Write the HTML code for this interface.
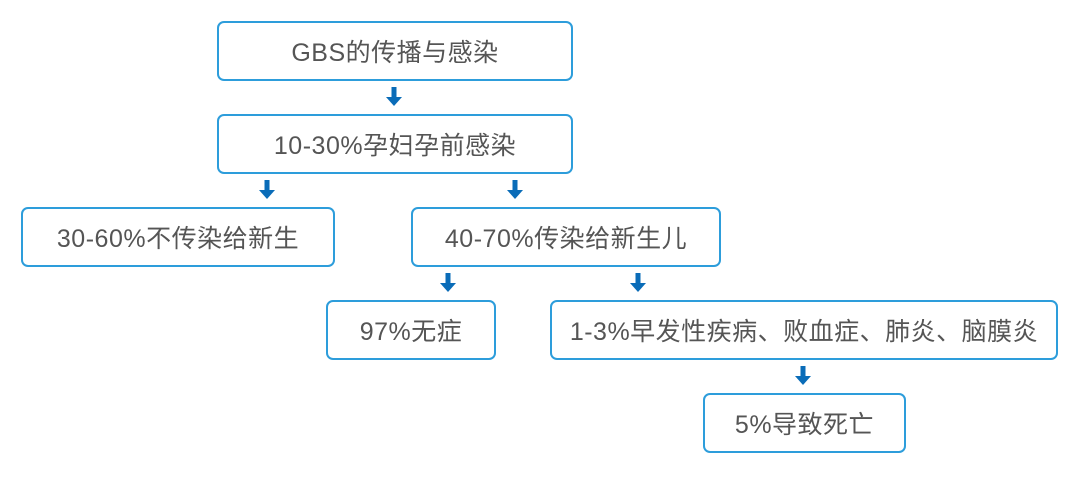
<!DOCTYPE html>
<html><head><meta charset="utf-8"><style>
html,body{margin:0;padding:0;background:#fff;}
body{width:1080px;height:477px;position:relative;overflow:hidden;font-family:"Liberation Sans","Noto Sans CJK SC",sans-serif;}
.b{position:absolute;box-sizing:border-box;border:2px solid #2d9ddb;border-radius:7px;display:flex;align-items:center;justify-content:center;color:#555;font-size:25px;letter-spacing:0.5px;}
svg{position:absolute;left:0;top:0;}
</style></head><body>
<div class="b" style="left:217px;top:21px;width:356px;height:60px">GBS的传播与感染</div>
<div class="b" style="left:217px;top:114px;width:356px;height:60px">10-30%孕妇孕前感染</div>
<div class="b" style="left:21px;top:207px;width:314px;height:60px">30-60%不传染给新生</div>
<div class="b" style="left:411px;top:207px;width:310px;height:60px">40-70%传染给新生儿</div>
<div class="b" style="left:326px;top:300px;width:170px;height:60px">97%无症</div>
<div class="b" style="left:550px;top:300px;width:508px;height:60px">1-3%早发性疾病、败血症、肺炎、脑膜炎</div>
<div class="b" style="left:703px;top:393px;width:203px;height:60px">5%导致死亡</div>
<svg width="1080" height="477">
<defs><g id="a" fill="#0a6cb8"><rect x="-2.5" y="0" width="5" height="12"/><polygon points="-8,10 8,10 0,19"/></g></defs>
<use href="#a" x="394" y="87"/>
<use href="#a" x="267" y="180"/>
<use href="#a" x="515" y="180"/>
<use href="#a" x="448" y="273"/>
<use href="#a" x="638" y="273"/>
<use href="#a" x="803" y="366"/>
</svg>
</body></html>
